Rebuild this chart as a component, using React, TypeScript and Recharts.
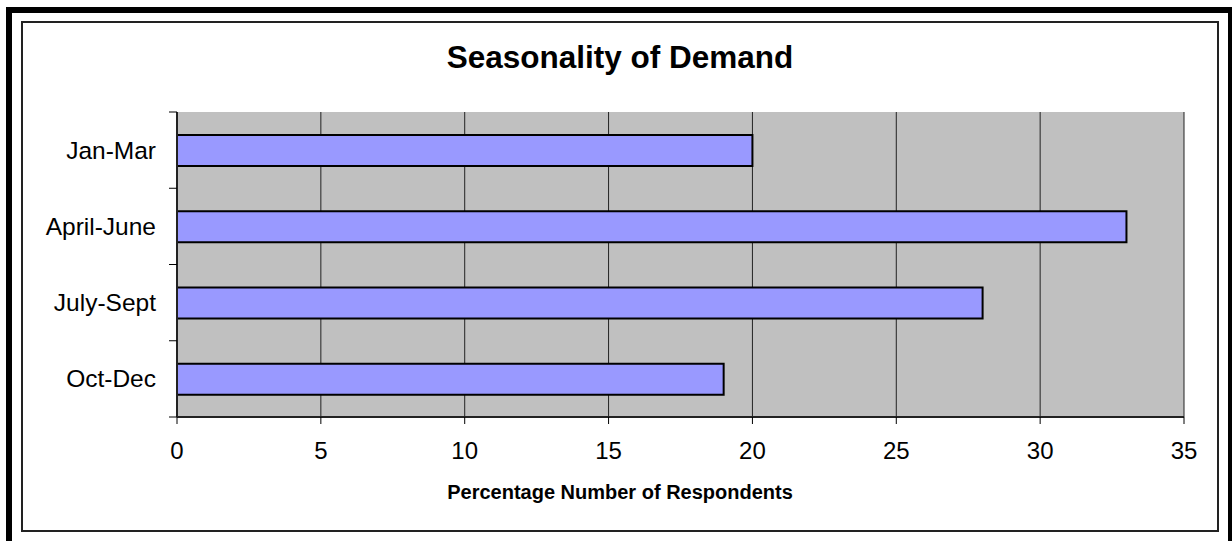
import React from 'react';
import { BarChart, Bar, XAxis, YAxis, CartesianGrid } from 'recharts';

const categories = ['Jan-Mar', 'April-June', 'July-Sept', 'Oct-Dec'];
const respondents = [20, 33, 28, 19];
const xTicks = [0, 5, 10, 15, 20, 25, 30, 35];

const data = categories.map((name, i) => ({ name, value: respondents[i] }));

const W = 1232;
const H = 541;
const plotLeft = 177;
const plotTop = 112;
const plotRight = 1184;
const plotBottom = 417;
const bandHalf = (plotBottom - plotTop) / categories.length / 2;

const font = '"Liberation Sans", Arial, sans-serif';

// category labels sit in the middle of each band, tick marks on the band edges
const CategoryTick = (props: any) => {
  const { y, payload, index } = props;
  const last = index === categories.length - 1;
  return (
    <g>
      <line x1={plotLeft - 8} x2={plotLeft} y1={y - bandHalf} y2={y - bandHalf} stroke="#000" strokeWidth={1} />
      {last && (
        <line x1={plotLeft - 8} x2={plotLeft} y1={y + bandHalf} y2={y + bandHalf} stroke="#000" strokeWidth={1} />
      )}
      <text x={plotLeft - 21} y={y} textAnchor="end" dominantBaseline="central" fontSize={24.5} fill="#000" fontFamily={font}>
        {payload.value}
      </text>
    </g>
  );
};

const App: React.FC = () => {
  return (
    <div style={{ position: 'absolute', left: 0, top: 0, width: W, height: H, overflow: 'hidden', background: '#fff' }}>
      <div style={{ position: 'absolute', left: 6, top: 7, width: 1228, height: H + 20, border: '6px solid #000', boxSizing: 'border-box' }} />
      <div style={{ position: 'absolute', left: 21, top: 21, width: 1219 - 21, height: 532 - 21, border: '2px solid #222', boxSizing: 'border-box' }} />
      <div
        style={{
          position: 'absolute', left: 21, width: 1219 - 21, top: 40, lineHeight: '34px',
          textAlign: 'center', fontFamily: font, fontWeight: 'bold', fontSize: 31.5, color: '#000',
        }}
      >
        Seasonality of Demand
      </div>
      <div
        style={{
          position: 'absolute', left: 21, width: 1219 - 21, top: 480, lineHeight: '24px',
          textAlign: 'center', fontFamily: font, fontWeight: 'bold', fontSize: 20, color: '#000',
        }}
      >
        Percentage Number of Respondents
      </div>
      <div style={{ position: 'absolute', left: 0, top: 0 }}>
        <BarChart
          width={W}
          height={H}
          data={data}
          layout="vertical"
          margin={{ top: plotTop, right: W - plotRight, bottom: 24, left: 7 }}
          barCategoryGap="30%"
        >
          <CartesianGrid horizontal={false} stroke="#222" strokeWidth={1} fill="#C0C0C0" fillOpacity={1} />
          <XAxis
            type="number"
            domain={[0, 35]}
            ticks={xTicks}
            height={H - plotBottom - 24}
            tickSize={7}
            tickMargin={18}
            axisLine={{ stroke: '#222', strokeWidth: 2 }}
            tickLine={{ stroke: '#000' }}
            tick={{ fontSize: 24, fill: '#000', fontFamily: font }}
          />
          <XAxis
            xAxisId="top"
            orientation="top"
            type="number"
            domain={[0, 35]}
            height={0}
            tick={false}
            tickLine={false}
            axisLine={{ stroke: '#808080', strokeWidth: 2 }}
          />
          <YAxis
            type="category"
            dataKey="name"
            width={plotLeft - 7}
            tickLine={false}
            axisLine={{ stroke: '#222', strokeWidth: 2 }}
            tick={<CategoryTick />}
          />
          <YAxis
            yAxisId="right"
            orientation="right"
            type="category"
            dataKey="name"
            width={0}
            tick={false}
            tickLine={false}
            axisLine={{ stroke: '#808080', strokeWidth: 2 }}
          />
          <Bar dataKey="value" fill="#9999FF" stroke="#000" strokeWidth={2} isAnimationActive={false} />
        </BarChart>
      </div>
    </div>
  );
};

export default App;
